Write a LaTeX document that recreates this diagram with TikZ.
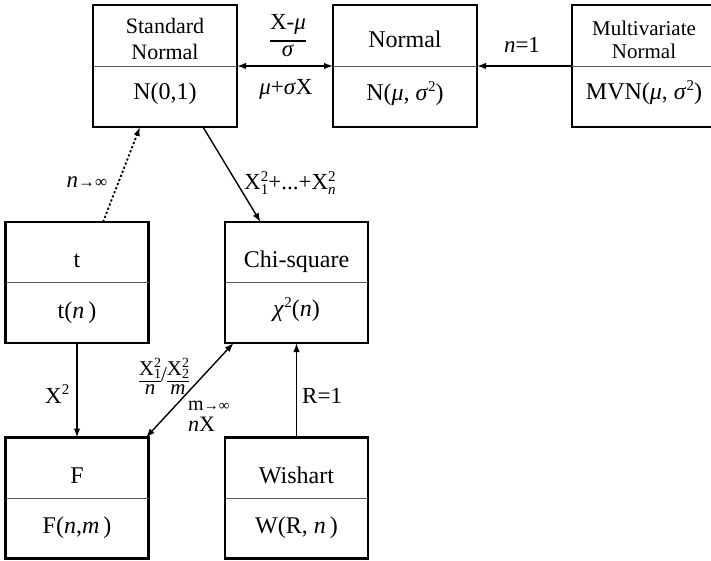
\documentclass[tikz,border=0pt]{standalone}
\usepackage{fontspec}
\setmainfont{Liberation Serif}
\usetikzlibrary{arrows.meta}
\newcommand{\sps}[1]{\raisebox{9pt}{\fontsize{15}{15}\selectfont #1}}
\newcommand{\sbsp}[2]{\rlap{\raisebox{9pt}{\fontsize{15}{15}\selectfont #1}}\raisebox{-5pt}{\fontsize{15}{15}\selectfont #2}}
\newcommand{\sbspS}[2]{\rlap{\raisebox{8pt}{\fontsize{14}{14}\selectfont #1}}\raisebox{-3pt}{\fontsize{14}{14}\selectfont #2}}
\newcommand{\ffr}[3]{\begingroup\renewcommand{\arraystretch}{0}\setlength{\arrayrulewidth}{#3}\begin{tabular}[c]{@{}c@{}}#1\\\hline #2\end{tabular}\endgroup}
\begin{document}
\begin{tikzpicture}[x=1pt,y=-1pt,
  box/.style={draw,line width=2.3pt,minimum width=144pt,minimum height=122pt,inner sep=0pt,outer sep=0pt},
  sbox/.style={box,minimum width=143pt,minimum height=121pt},
  div/.style={draw=black!65,line width=0.9pt},
  txt/.style={inner sep=0pt,font=\fontsize{24}{27}\selectfont},
  lbl/.style={inner sep=0pt,font=\fontsize{23}{26}\selectfont},
  con/.style={line width=1.4pt,-{Latex[length=9pt,width=6.5pt]}},
  dcon/.style={line width=1.4pt,{Latex[length=9pt,width=6.5pt]}-{Latex[length=9pt,width=6.5pt]}},
  dotcon/.style={con,dash pattern=on 2.2pt off 2.2pt,line width=1.8pt}
]
\useasboundingbox (0,0) rectangle (711,561);
% boxes
\node[box] (sn) at (165,66) {};
\node[box] (nm) at (405,66) {};
\node[box] (mvn) at (644,66) {};
\node[sbox] (t) at (77,282.5) {};
\node[sbox] (chi) at (296.5,282.5) {};
\node[sbox] (F) at (77,498) {};
\node[sbox] (W) at (296.5,498) {};
\foreach \b in {sn,nm,mvn,t,chi,F,W} \draw[div] (\b.west) -- (\b.east);
% box texts
\node[inner sep=0pt,align=center,font=\fontsize{22}{26.5}\selectfont] (snA) at (165,39) {Standard\\Normal};
\node[txt,anchor=base] (snB) at (165,100) {N(0,1)};
\node[txt,anchor=base] (nmA) at (405,48) {Normal};
\node[txt,anchor=base] (nmB) at (405,101) {N(\textit{μ}, \textit{σ}\sps{2})};
\node[inner sep=0pt,align=center,font=\fontsize{21}{23}\selectfont] (mvnA) at (644,40) {Multivariate\\Normal};
\node[txt,anchor=base] (mvnB) at (644,100) {MVN(\textit{μ}, \textit{σ}\sps{2})};
\node[txt,anchor=base] (tA) at (77,267) {t};
\node[txt,anchor=base] (tB) at (77,318) {t(\textit{n}\,)};
\node[txt,anchor=base] (chiA) at (296.5,267) {Chi-square};
\node[txt,anchor=base] (chiB) at (296.5,316) {\textit{χ}\sps{2}(\textit{n})};
\node[txt,anchor=base] (FA) at (77,483) {F};
\node[txt,anchor=base] (FB) at (77,533) {F(\textit{n},\textit{m}\,)};
\node[txt,anchor=base] (WA) at (296.5,483) {Wishart};
\node[txt,anchor=base] (WB) at (296.5,533) {W(R, \textit{n}\,)};
% connectors
\draw[dcon] (sn.east) -- (nm.west);
\draw[con] (mvn.west) -- (nm.east);
\draw[con] ([xshift=38pt]sn.south) -- ([xshift=-36pt]chi.north);
\draw[dotcon] ([xshift=26pt]t.north) -- ([xshift=-25pt]sn.south);
\draw[con] (t.south) -- (F.north);
\draw[dcon] ([xshift=69pt]F.north) -- ([xshift=-63pt]chi.south);
\draw[con] (W.north) -- (chi.south);
% connector labels
\node[lbl] (l1) at (288,35.5) {\ffr{X-\textit{μ}\rule[-11pt]{0pt}{0pt}}{\rule{0pt}{15pt}\textit{σ}}{1.5pt}};
\node[lbl,anchor=base] (l2) at (286,95) {\textit{μ}+\textit{σ}X};
\node[lbl,anchor=base] (l3) at (522,53) {\textit{n}=1};
\node[lbl,anchor=base] (l4) at (87,188) {\textit{n}{\fontsize{17}{17}\selectfont →∞}};
\node[lbl,anchor=base west] (l5) at (244,190) {X\sbsp{2}{1}+...+X\sbsp{2}{\textit{n}}};
\node[lbl,anchor=base west] (l6) at (45,403) {X\sps{2}};
\node[lbl,anchor=base west] (l7) at (302,403) {R=1};
\node[inner sep=0pt,font=\fontsize{21}{23}\selectfont] (l8) at (164,376) {\ffr{X\sbspS{2}{1}\rule[-6pt]{0pt}{0pt}}{\rule{0pt}{12pt}\textit{n}}{1.2pt}/\ffr{X\sbspS{2}{2}\rule[-6pt]{0pt}{0pt}}{\rule{0pt}{12pt}\textit{m}}{1.2pt}};
\node[inner sep=0pt,anchor=base west,font=\fontsize{20}{22}\selectfont] (l9) at (188,410) {m{\fontsize{15}{15}\selectfont →∞}};
\node[inner sep=0pt,anchor=base west,font=\fontsize{22}{24}\selectfont] (l10) at (188,431) {\textit{n}X};
\end{tikzpicture}
\end{document}
